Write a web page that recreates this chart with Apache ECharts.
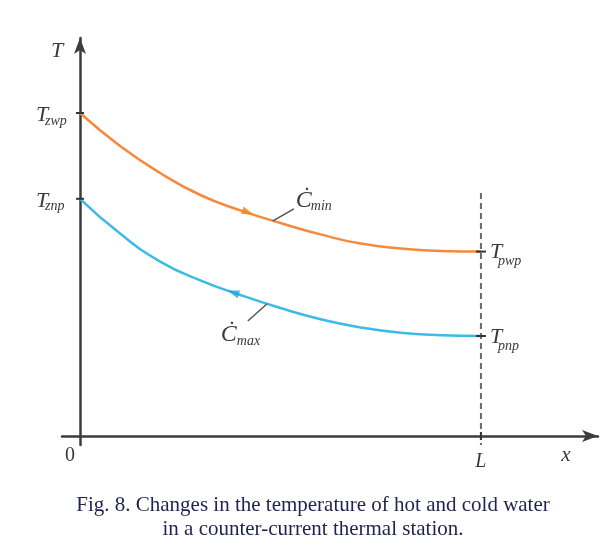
<!DOCTYPE html>
<html><head><meta charset="utf-8">
<script src="https://cdn.jsdelivr.net/npm/echarts@6/dist/echarts.min.js"></script>
<style>html,body{margin:0;padding:0;background:#fff}#c{width:616px;height:550px}</style>
</head><body><div id="c"></div>
<script>
// ---- data (x: 0..L, T: arbitrary units) ----
const L = 10;
const xPos  = [0, 1, 2, 3, 4, 5, 6, 7, 8, 9, 10];
const hotT  = [80.75, 72.5, 65.75, 60.25, 56.4, 53.25, 50.4, 48.1, 46.9, 46.25, 46.1];
const coldT = [59.3, 50.6, 43.6, 38.9, 35.25, 32, 29.2, 27.15, 25.8, 25.2, 25];
const hotArrow = [4.19, 55.9];    // flow direction marker on hot curve
const coldArrow = [3.82, 35.9];   // flow direction marker on cold curve
const hotLeader = [4.81, 53.8];   // point where C_min leader touches curve
const coldLeader = [4.66, 33];    // point where C_max leader touches curve
const dashTop = 60.75;
const startSubs = ['zwp', 'znp'];
const endSubs = ['pwp', 'pnp'];
const capSubs = ['min', 'max'];
const xTickLabels = ['0', 'L'];
const axisNames = ['T', 'x'];
const caption = ['Fig. 8. Changes in the temperature of hot and cold water',
                 'in a counter-current thermal station.'];

// ---- axis ranges ----
const xMin = -0.449, xMax = 12.92, yMin = -2.25, yMax = 99.5;

const zip = (a, b) => a.map((v, i) => [v, b[i]]);
const FONT = 'Liberation Serif';
const INK = '#3a3a3a';

const annots = [
  {x: 0, y: hotT[0], kind: 'left', sub: startSubs[0]},
  {x: 0, y: coldT[0], kind: 'left', sub: startSubs[1]},
  {x: L, y: hotT[hotT.length - 1], kind: 'right', sub: endSubs[0]},
  {x: L, y: coldT[coldT.length - 1], kind: 'right', sub: endSubs[1]},
  {x: 0, y: 0, kind: 'zero', text: xTickLabels[0]},
  {x: L, y: 0, kind: 'Ltick', text: xTickLabels[1]},
  {x: 0, y: yMax, kind: 'Tname', text: axisNames[0]},
  {x: xMax, y: 0, kind: 'xname', text: axisNames[1]},
  {x: hotLeader[0], y: hotLeader[1], kind: 'cmin', sub: capSubs[0]},
  {x: coldLeader[0], y: coldLeader[1], kind: 'cmax', sub: capSubs[1]}
];

function txt(text, x, y, size, italic, align, fill) {
  return {type: 'text', style: {text, x, y, fill: fill || INK,
    font: (italic ? 'italic ' : '') + size + 'px "' + FONT + '"',
    align: align || 'left', verticalAlign: 'middle'}};
}
function seg(x1, y1, x2, y2, w, c) {
  return {type: 'line', shape: {x1, y1, x2, y2}, style: {stroke: c || '#333', lineWidth: w || 2}};
}

function renderItem(params, api) {
  const a = annots[params.dataIndex];
  const p = api.coord([a.x, a.y]);
  const px = p[0], py = p[1];
  const ch = [];
  switch (a.kind) {
    case 'left':
      ch.push(seg(px - 4, py, px + 4, py, 2, '#333'));
      ch.push(txt('T', px - 44, py + 2, 22, true));
      ch.push(txt(a.sub, px - 35, py + 8, 14, true));
      break;
    case 'right':
      ch.push(seg(px - 5, py, px + 5, py, 2, '#333'));
      ch.push(txt('T', px + 9, py + 1, 22, true));
      ch.push(txt(a.sub, px + 17, py + 10, 14, true));
      break;
    case 'zero':
      ch.push(txt(a.text, px - 15, py + 20, 20, false));
      break;
    case 'Ltick':
      ch.push(seg(px, py - 4, px, py + 4, 2, '#333'));
      ch.push(txt(a.text, px, py + 26, 20, true, 'center'));
      break;
    case 'Tname':
      ch.push(txt(a.text, px - 23, py + 13, 22, true, 'center'));
      break;
    case 'xname':
      ch.push(txt(a.text, px - 32, py + 19, 21, true, 'center'));
      break;
    case 'cmin':
      ch.push(seg(px, py, px + 21, py - 12, 1.5, '#555'));
      ch.push(txt('\u010A', px + 23, py - 20, 24, true));
      ch.push(txt(a.sub, px + 38, py - 14, 14, true));
      break;
    case 'cmax':
      ch.push(seg(px, py, px - 19, py + 17, 1.5, '#555'));
      ch.push(txt('\u010A', px - 46, py + 31, 24, true));
      ch.push(txt(a.sub, px - 30, py + 37, 14, true));
      break;
  }
  return {type: 'group', children: ch};
}

const chart = echarts.init(document.getElementById('c'), null, {renderer: 'canvas'});
const axisLineStyle = {color: '#3c3c3c', width: 2.5};
chart.setOption({
  animation: false,
  backgroundColor: '#ffffff',
  grid: {left: 62, top: 38, width: 536, height: 407, containLabel: false},
  xAxis: {type: 'value', min: xMin, max: xMax,
    axisLine: {onZero: true, lineStyle: axisLineStyle, symbol: ['none', 'arrow'], symbolSize: [9, 16]},
    axisTick: {show: false}, axisLabel: {show: false}, splitLine: {show: false}},
  yAxis: {type: 'value', min: yMin, max: yMax,
    axisLine: {onZero: true, lineStyle: axisLineStyle, symbol: ['none', 'arrow'], symbolSize: [9, 16]},
    axisTick: {show: false}, axisLabel: {show: false}, splitLine: {show: false}},
  series: [
    {type: 'line', data: [[L, dashTop], [L, yMin]], showSymbol: false, silent: true,
      lineStyle: {color: '#6a6a6a', width: 2, type: [6, 4]}, z: 1},
    {type: 'line', data: zip(xPos, hotT), smooth: 0.5, showSymbol: false,
      lineStyle: {color: '#f58a3f', width: 2.5}, z: 3},
    {type: 'line', data: zip(xPos, coldT), smooth: 0.5, showSymbol: false,
      lineStyle: {color: '#3bbbe6', width: 2.5}, z: 3},
    {type: 'scatter', data: [hotArrow], symbol: 'triangle', symbolSize: [8, 12], symbolRotate: -110,
      itemStyle: {color: '#f5801f'}, z: 4},
    {type: 'scatter', data: [coldArrow], symbol: 'triangle', symbolSize: [8, 12], symbolRotate: 71,
      itemStyle: {color: '#1ea7df'}, z: 4},
    {type: 'custom', renderItem, data: annots.map(a => [a.x, a.y]), clip: false, z: 5, silent: true}
  ],
  graphic: caption.map((line, i) => ({
    type: 'text', x: 313, y: 505 + i * 24,
    style: {text: line, font: '21px "' + FONT + '"', fill: '#1f2350', align: 'center', verticalAlign: 'middle'}
  }))
});
</script></body></html>
